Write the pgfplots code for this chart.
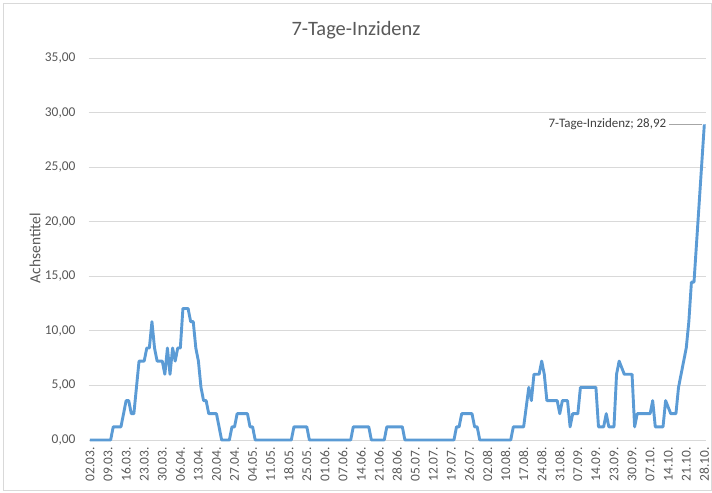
\documentclass[border=0pt]{standalone}
\usepackage{fontspec}
\setmainfont{Carlito}
\usepackage{pgfplots}
\pgfplotsset{compat=1.18}
\definecolor{linec}{RGB}{91,155,213}
\definecolor{gridc}{RGB}{217,217,217}
\definecolor{txt}{RGB}{89,89,89}
\definecolor{lbl}{RGB}{64,64,64}
\begin{document}
\begin{tikzpicture}[x=1bp,y=1bp]
\useasboundingbox (0,0) rectangle (712,493);
\draw[gridc, line width=0.75bp] (3.5,2.5) rectangle (711.5,489.5);
\node[text=txt, font=\fontsize{20.5}{24}\selectfont] at (356,463) {7-Tage-Inzidenz};
\node[text=txt, rotate=90, font=\fontsize{15.5}{18}\selectfont] at (35,245) {Achsentitel};
\begin{axis}[at={(88.7bp,53bp)}, anchor=south west, scale only axis,
  width=616.9bp, height=382bp,
  xmin=-0.5, xmax=238.5, ymin=0, ymax=35,
  ytick={0,5,...,35},
  xtick={0,7,...,238},
  xticklabels={02.03.,09.03.,16.03.,23.03.,30.03.,06.04.,13.04.,20.04.,27.04.,04.05.,11.05.,18.05.,25.05.,01.06.,07.06.,14.06.,21.06.,28.06.,05.07.,12.07.,19.07.,26.07.,02.08.,10.08.,17.08.,24.08.,31.08.,07.09.,14.09.,23.09.,30.09.,07.10.,14.10.,21.10.,28.10.},
  axis line style={draw=none},
  tick style={draw=none},
  major tick length=0pt,
  ymajorgrids, grid style={gridc, line width=0.75bp},
  xticklabel style={yshift=-7bp, rotate=90, anchor=east, inner sep=0pt, text=txt, font=\fontsize{13.5}{15}\selectfont},
  yticklabel style={anchor=east, inner sep=0pt, xshift=-13bp, text=txt, font=\fontsize{13.5}{15}\selectfont},
  /pgf/number format/assume math mode=true,
  yticklabel={\pgfmathprintnumber[fixed, fixed zerofill, precision=2, use comma]{\tick}},
  clip=false,
]
\addplot[linec, line width=2.9bp, line join=round, mark=none] coordinates {
(0,0) (8,0) (9,1.205) (12,1.205) (13,2.41) (14,3.61) (15,3.61) (16,2.41) (17,2.41)
(18,4.82) (19,7.23) (21,7.23) (22,8.43) (23,8.43) (24,10.84) (25,8.43) (26,7.23)
(28,7.23) (29,6.02) (30,8.43) (31,6.02) (32,8.43) (33,7.23) (34,8.43) (35,8.43)
(36,12.05) (38,12.05) (39,10.84) (40,10.84) (41,8.43) (42,7.23) (43,4.82) (44,3.61)
(45,3.61) (46,2.41) (49,2.41) (50,1.205) (51,0) (54,0) (55,1.205) (56,1.205)
(57,2.41) (61,2.41) (62,1.205) (63,1.205) (64,0) (78,0) (79,1.205) (84,1.205) (85,0)
(101,0) (102,1.205) (108,1.205) (109,0) (114,0) (115,1.205) (121,1.205) (122,0)
(141,0) (142,1.205) (143,1.205) (144,2.41) (148,2.41) (149,1.205) (150,1.205) (151,0)
(163,0) (164,1.205) (168,1.205) (170,4.82) (171,3.61) (172,6.02) (174,6.02) (175,7.23)
(176,6.02) (177,3.61) (181,3.61) (182,2.41) (183,3.61) (185,3.61) (186,1.205)
(187,2.41) (189,2.41) (190,4.82) (196,4.82) (197,1.205) (199,1.205) (200,2.41)
(201,1.205) (203,1.205) (204,6.02) (205,7.23) (207,6.02) (210,6.02) (211,1.205)
(212,2.41) (217,2.41) (218,3.61) (219,1.205) (222,1.205) (223,3.61) (225,2.41)
(227,2.41) (228,4.82) (229,6.02) (230,7.23) (231,8.43) (232,10.84) (233,14.46)
(234,14.46) (235,18.08) (236,21.69) (237,25.30) (238,28.92)
};
\node[anchor=east, text=lbl, inner sep=0pt, font=\fontsize{13}{15}\selectfont] at (axis cs:223.3,28.92) {7-Tage-Inzidenz; 28,92};
\draw[gray!70, line width=0.6bp] (axis cs:224.5,28.92) -- (axis cs:237.2,28.92);
\end{axis}
\end{tikzpicture}
\end{document}
